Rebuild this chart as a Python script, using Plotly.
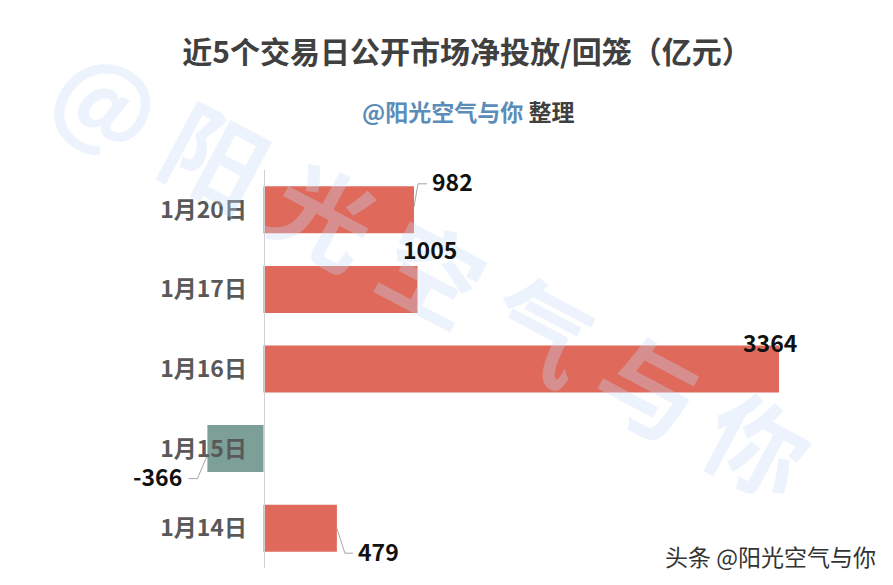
import plotly.graph_objects as go

categories = ["1月20日", "1月17日", "1月16日", "1月15日", "1月14日"]
values = [982, 1005, 3364, -366, 479]
title_text = "近5个交易日公开市场净投放/回笼（亿元）"
watermark = "@ 阳 光 空 气 与 你"
footer = "头条 @阳光空气与你"

FONT = "Noto Sans CJK SC"
RED = "#DF6A5C"
GREEN = "#7C9F97"

W, H = 893, 585
L, R, T, B = 130, 14, 170, 17
zero_px = 263.5
px_per_unit = 515.5 / 3364
plot_w = W - L - R
plot_h = H - T - B
band_px = plot_h / 5
x0 = (L - zero_px) / px_per_unit
x1 = (W - R - zero_px) / px_per_unit


def px(x):
    return (x - L) / plot_w


def py(y):
    return (H - B - y) / plot_h


colors = [RED if v >= 0 else GREEN for v in values]

fig = go.Figure(go.Bar(
    y=categories, x=values, orientation="h",
    marker=dict(color=colors, line=dict(width=0)),
    hoverinfo="skip",
))

# label offset from the bar end (px, y up), leader bend offsets (px, y up)
label_style = {
    "1月20日": (39, 28.5, [(0, 2.5), (4, 26), (13, 26)]),
    "1月17日": (12, 40, None),
    "1月16日": (-9, 27, None),
    "1月15日": (-50, -27.5, [(0, -6.5), (-10, -30), (-19, -30)]),
    "1月14日": (42, -23, [(0, 0), (8, -25), (16, -25)]),
}

annos = [dict(
    text=f"<b>{watermark}</b>", xref="paper", yref="paper", x=px(434), y=py(268),
    xanchor="center", yanchor="middle",
    showarrow=False, textangle=28,
    font=dict(family=FONT, size=100, color="rgba(196,220,245,0.33)"),
)]

for i, (c, v) in enumerate(zip(categories, values)):
    dx, dy, leader = label_style[c]
    if leader:
        fig.add_trace(go.Scatter(
            x=[v + p[0] / px_per_unit for p in leader],
            y=[i - p[1] / band_px for p in leader],
            yaxis="y2",
            mode="lines", line=dict(color="#A6A6A6", width=1),
            hoverinfo="skip",
        ))
    annos.append(dict(
        text=f"<b>{v}</b>", x=v, y=c, xref="x", yref="y",
        xanchor="center", yanchor="middle", xshift=dx, yshift=dy, showarrow=False,
        font=dict(family=FONT, size=23, color="#111111"),
    ))

annos.append(dict(
    text='<b><span style="color:#5B8DB8">@阳光空气与你</span> 整理</b>',
    xref="paper", yref="paper", x=px(468), y=py(111),
    xanchor="center", yanchor="middle", showarrow=False,
    font=dict(family=FONT, size=23, color="#404040"),
))
annos.append(dict(
    text=footer, xref="paper", yref="paper", x=px(878), y=py(556),
    xanchor="right", yanchor="middle", showarrow=False,
    font=dict(family=FONT, size=23, color="#333333"),
))

fig.update_layout(
    width=W, height=H, margin=dict(l=L, r=R, t=T, b=B, autoexpand=False),
    paper_bgcolor="white", plot_bgcolor="rgba(0,0,0,0)",
    showlegend=False, bargap=0.41,
    title=dict(text=f"<b>{title_text}</b>", x=467 / W, y=1 - 52 / H,
               xanchor="center", yanchor="middle",
               font=dict(family=FONT, size=30, color="#404040")),
    xaxis=dict(range=[x0, x1], visible=False, domain=[0, 1]),
    yaxis=dict(
        categoryorder="array", categoryarray=categories,
        range=[4.5, -0.5], anchor="free", position=(zero_px - L) / plot_w,
        showline=True, linecolor="#D0D0D0", linewidth=1, showgrid=False, zeroline=False,
        ticks="", ticklabelstandoff=12, automargin=False,
        tickfont=dict(family=FONT, size=23, color="#595959", weight="bold"),
    ),
    yaxis2=dict(overlaying="y", range=[4.5, -0.5], visible=False),
    annotations=annos,
)

fig.write_html("out.html", config={"displayModeBar": False},
               post_script="document.body.style.margin='0';")
